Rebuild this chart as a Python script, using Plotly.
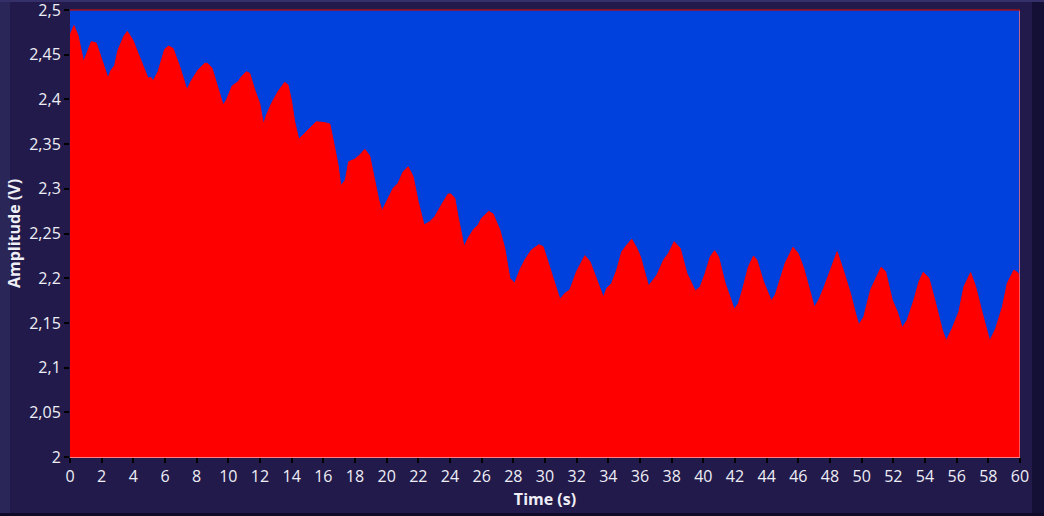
import plotly.graph_objects as go

# Time (s) and amplitude (V) at peaks, troughs and shoulders
time_s = [
    0.0, 0.25, 0.5, 0.82, 0.86, 1.35, 1.66, 2.19, 2.40, 2.57, 2.82, 3.03, 3.41, 3.62, 3.98,
    4.30, 4.61, 4.93, 5.10, 5.25, 5.56, 5.98, 6.23, 6.51, 6.93, 7.24, 7.39, 7.66, 8.09, 8.51,
    8.68, 8.97, 9.35, 9.67, 9.88, 10.24, 10.62, 10.83, 11.14, 11.35, 11.67, 11.98, 12.19, 12.26,
    12.41, 12.73, 13.14, 13.56, 13.77, 13.98, 14.19, 14.45, 14.82, 15.25, 15.56, 16.09, 16.41,
    16.62, 16.93, 17.10, 17.39, 17.60, 17.98, 18.30, 18.62, 18.93, 19.25, 19.50, 19.71, 20.09,
    20.41, 20.72, 21.04, 21.36, 21.67, 21.99, 22.36, 22.72, 23.04, 23.46, 23.88, 24.05, 24.30,
    24.51, 24.89, 25.14, 25.46, 25.78, 25.99, 26.45, 26.72, 27.15, 27.46, 27.78, 28.09, 28.41,
    28.73, 29.14, 29.61, 29.88, 30.20, 30.62, 30.94, 31.26, 31.57, 31.99, 32.52, 32.84, 33.26,
    33.69, 33.90, 34.21, 34.53, 34.85, 35.17, 35.48, 35.80, 36.03, 36.23, 36.54, 36.75, 37.07,
    37.49, 37.80, 38.16, 38.54, 38.96, 39.49, 39.81, 40.12, 40.44, 40.71, 40.96, 41.38, 41.95,
    42.22, 42.47, 42.85, 43.17, 43.38, 43.80, 44.29, 44.54, 44.86, 45.17, 45.66, 45.98, 46.34,
    46.66, 47.01, 47.29, 47.60, 48.03, 48.45, 48.87, 49.29, 49.61, 49.82, 50.14, 50.56, 51.23,
    51.51, 51.93, 52.25, 52.56, 52.88, 53.30, 53.62, 53.89, 54.25, 54.67, 55.09, 55.34, 55.72,
    56.14, 56.46, 56.88, 57.20, 57.62, 58.09, 58.47, 58.89, 59.20, 59.62, 59.89, 60.0,
]
amplitude_v = [
    2.472, 2.4825, 2.472, 2.444, 2.442, 2.4646, 2.463, 2.435, 2.4236, 2.432, 2.438, 2.455, 2.471,
    2.476, 2.466, 2.4515, 2.4366, 2.4236, 2.4247, 2.4206, 2.431, 2.456, 2.4597, 2.457, 2.4366,
    2.4198, 2.4105, 2.421, 2.4329, 2.4404, 2.4404, 2.4348, 2.4124, 2.3937, 2.3993, 2.415, 2.4198,
    2.4254, 2.431, 2.4292, 2.4105, 2.3956, 2.375, 2.374, 2.3826, 2.3956, 2.4087, 2.4191, 2.4161,
    2.3993, 2.375, 2.3553, 2.362, 2.3695, 2.375, 2.374, 2.3725, 2.3546, 2.3266, 2.3031, 2.3098,
    2.3303, 2.333, 2.3378, 2.3442, 2.3367, 2.3098, 2.2875, 2.2755, 2.2894, 2.3005, 2.3061, 2.3191,
    2.3247, 2.3136, 2.2856, 2.2595, 2.2632, 2.2688, 2.2819, 2.2942, 2.2942, 2.2894, 2.2688, 2.2353,
    2.2446, 2.2539, 2.2595, 2.267, 2.2748, 2.2718, 2.2539, 2.2334, 2.1999, 2.1943, 2.2092, 2.2204,
    2.2315, 2.2375, 2.2353, 2.2167, 2.1924, 2.1764, 2.1831, 2.1868, 2.2073, 2.2252, 2.2185, 2.198,
    2.1786, 2.1887, 2.1943, 2.2092, 2.2296, 2.2371, 2.2435, 2.2334, 2.224, 2.2111, 2.1913, 2.1961,
    2.2036, 2.2204, 2.2279, 2.2408, 2.2334, 2.2055, 2.1857, 2.1905, 2.2055, 2.224, 2.2308, 2.224,
    2.1943, 2.1652, 2.1719, 2.1868, 2.2129, 2.2248, 2.2204, 2.1961, 2.1748, 2.1812, 2.198, 2.2167,
    2.2346, 2.2279, 2.2111, 2.1905, 2.1674, 2.1756, 2.1887, 2.2092, 2.2296, 2.2073, 2.1831, 2.1607,
    2.1477, 2.157, 2.1868, 2.2122, 2.2073, 2.1756, 2.1625, 2.1447, 2.1532, 2.1756, 2.1961, 2.2066,
    2.1999, 2.1719, 2.1421, 2.1301, 2.1439, 2.1625, 2.1905, 2.2062, 2.1905, 2.1607, 2.1298, 2.1439,
    2.1681, 2.1943, 2.2092, 2.2055, 2.192,
]

x_ticks = list(range(0, 61, 2))
x_tick_labels = [str(v) for v in x_ticks]
y_ticks = [2.0, 2.05, 2.1, 2.15, 2.2, 2.25, 2.3, 2.35, 2.4, 2.45, 2.5]
y_tick_labels = ["2", "2,05", "2,1", "2,15", "2,2", "2,25", "2,3", "2,35", "2,4", "2,45", "2,5"]

BG = "#221a4a"
PLOT_BG = "#0040dd"
TEXT = "#eeeef6"
FONT = "Open Sans, DejaVu Sans, sans-serif"

fig = go.Figure()
fig.add_trace(go.Scatter(
    x=time_s, y=amplitude_v, mode="lines",
    line=dict(color="#ff0000", width=1),
    fill="tozeroy", fillcolor="#ff0000",
    hoverinfo="x+y", showlegend=False,
))

fig.update_layout(
    width=1044, height=516,
    margin=dict(l=70, r=24, t=10, b=59, autoexpand=False),
    paper_bgcolor=BG, plot_bgcolor=PLOT_BG,
    font=dict(family=FONT, color=TEXT, size=15),
    separators=",.",
    xaxis=dict(
        range=[0, 60], tickvals=x_ticks, ticktext=x_tick_labels,
        ticks="outside", ticklen=5, tickwidth=2, tickcolor="#000000",
        showgrid=False, zeroline=False, automargin=False,
        ticklabeloverflow="allow",
        showline=True, linecolor="#ff8080", linewidth=1,
        tickfont=dict(size=16, color=TEXT),
        title=dict(text="<b>Time (s)</b>", font=dict(size=16, color=TEXT), standoff=7),
    ),
    yaxis=dict(
        range=[2, 2.5], tickvals=y_ticks, ticktext=y_tick_labels,
        ticks="outside", ticklen=5, tickwidth=2, tickcolor="#000000",
        showgrid=False, zeroline=False, showline=False, automargin=False,
        ticklabeloverflow="allow",
        tickfont=dict(size=16, color=TEXT),
        title=dict(text="<b>Amplitude (V)</b>", font=dict(size=16, color=TEXT), standoff=4),
    ),
    shapes=[
        dict(type="line", xref="x", yref="paper", x0=60, x1=60, y0=0, y1=1,
             line=dict(color="#ff7070", width=1.5)),
        dict(type="line", xref="paper", yref="paper", x0=0, x1=1, y0=1, y1=1,
             line=dict(color="#a01020", width=1.5)),
        # window frame shading
        dict(type="rect", xref="paper", yref="paper", x0=-70/950, x1=-60/950, y0=-59/447, y1=1+10/447,
             fillcolor="#2a2658", line=dict(width=0), layer="below"),
        dict(type="rect", xref="paper", yref="paper", x0=1+12/950, x1=1+24/950, y0=-59/447, y1=1+10/447,
             fillcolor="#140f34", line=dict(width=0), layer="below"),
        dict(type="rect", xref="paper", yref="paper", x0=-70/950, x1=1+24/950, y0=1+8/447, y1=1+10/447,
             fillcolor="#36306a", line=dict(width=0), layer="below"),
        dict(type="rect", xref="paper", yref="paper", x0=-70/950, x1=1+24/950, y0=-59/447, y1=-56/447,
             fillcolor="#0e0a28", line=dict(width=0), layer="below"),
    ],
)

fig.write_html(
    "out.html",
    config={"displayModeBar": False},
    post_script="document.body.style.margin='0';document.body.style.overflow='hidden';"
                "document.body.style.background='#221a4a';",
)
